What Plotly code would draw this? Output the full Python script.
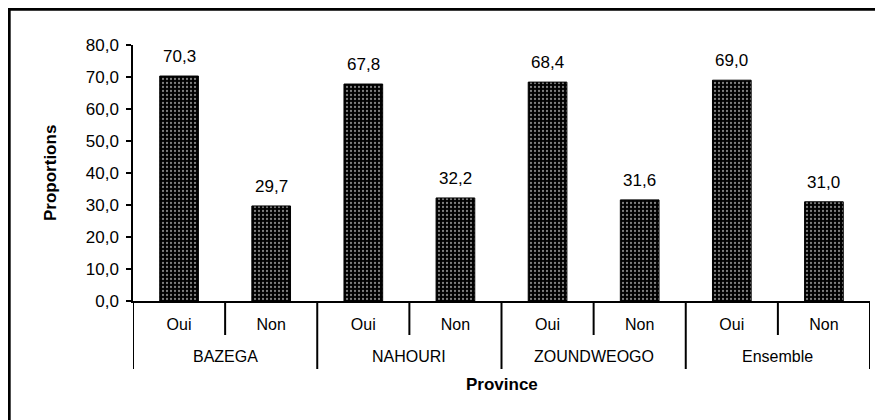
import plotly.graph_objects as go

provinces = ["BAZEGA", "NAHOURI", "ZOUNDWEOGO", "Ensemble"]
answers = ["Oui", "Non"]
values = [70.3, 29.7, 67.8, 32.2, 68.4, 31.6, 69.0, 31.0]
y_ticks = [0, 10, 20, 30, 40, 50, 60, 70, 80]

keys = [f"{p}|{a}" for p in provinces for a in answers]
inner = [a for _ in provinces for a in answers]

FONT = "Liberation Sans, Arial, sans-serif"
n_inner = len(answers)
n_total = len(keys)

fig = go.Figure()
fig.add_trace(go.Bar(
    x=keys,
    y=values,
    marker=dict(
        color="black",
        line=dict(color="black", width=1),
        pattern=dict(shape=".", fgcolor="white", bgcolor="black", size=4, solidity=0.25),
    ),
    hoverinfo="skip",
))

annotations = []
# value labels
for k, v in zip(keys, values):
    annotations.append(dict(
        x=k, y=v, xref="x", yref="y", text=f"{v:.1f}".replace(".", ","),
        showarrow=False, yanchor="bottom", yshift=8,
        font=dict(family=FONT, size=17, color="black"),
    ))
# outer group labels
for i, p in enumerate(provinces):
    annotations.append(dict(
        x=i * n_inner + (n_inner - 1) / 2, y=0, xref="x", yref="paper",
        text=p, showarrow=False, yanchor="middle", yshift=-55,
        font=dict(family=FONT, size=16, color="black"),
    ))
# axis titles
annotations.append(dict(
    x=0.5, y=0, xref="paper", yref="paper", text="<b>Province</b>",
    showarrow=False, yanchor="middle", yshift=-83,
    font=dict(family=FONT, size=17, color="black"),
))
annotations.append(dict(
    x=0, y=0.5, xref="paper", yref="paper", text="<b>Proportions</b>",
    showarrow=False, xanchor="center", yanchor="middle", xshift=-83, textangle=-90,
    font=dict(family=FONT, size=17, color="black"),
))

shapes = []
# dividers: group boundaries long, inner boundaries short
for b in range(n_total + 1):
    pos = b - 0.5
    long_div = (b % n_inner == 0)
    shapes.append(dict(
        type="line", xref="x", yref="paper", ysizemode="pixel", yanchor=0,
        x0=pos, x1=pos, y0=0, y1=-68 if long_div else -34,
        line=dict(color="black", width=2),
    ))
# outer frame
shapes.append(dict(
    type="rect", xref="paper", yref="paper",
    x0=-0.168, x1=1.2, y0=-0.8, y1=1.14,
    line=dict(color="black", width=3), fillcolor="rgba(0,0,0,0)", layer="above",
))

fig.update_layout(
    width=883, height=420,
    margin=dict(l=125, r=21, t=37, b=127),
    paper_bgcolor="white", plot_bgcolor="white",
    bargap=0.58,
    showlegend=False,
    font=dict(family=FONT, size=15, color="black"),
    xaxis=dict(
        type="category",
        range=[-0.5, n_total - 0.5],
        tickvals=keys, ticktext=inner,
        showline=True, linecolor="black", linewidth=1.5,
        ticks="", ticklabelstandoff=8,
        tickfont=dict(family=FONT, size=16, color="black"),
        showgrid=False,
    ),
    yaxis=dict(
        range=[0, 80],
        tickvals=y_ticks,
        ticktext=[f"{t:.1f}".replace(".", ",") for t in y_ticks],
        showline=True, linecolor="black", linewidth=1.5,
        ticks="outside", ticklen=5, tickcolor="black", tickwidth=1.5,
        ticklabelstandoff=4,
        showgrid=False, zeroline=False,
        tickfont=dict(family=FONT, size=17, color="black"),
    ),
    annotations=annotations,
    shapes=shapes,
)

fig.write_html("out.html")
